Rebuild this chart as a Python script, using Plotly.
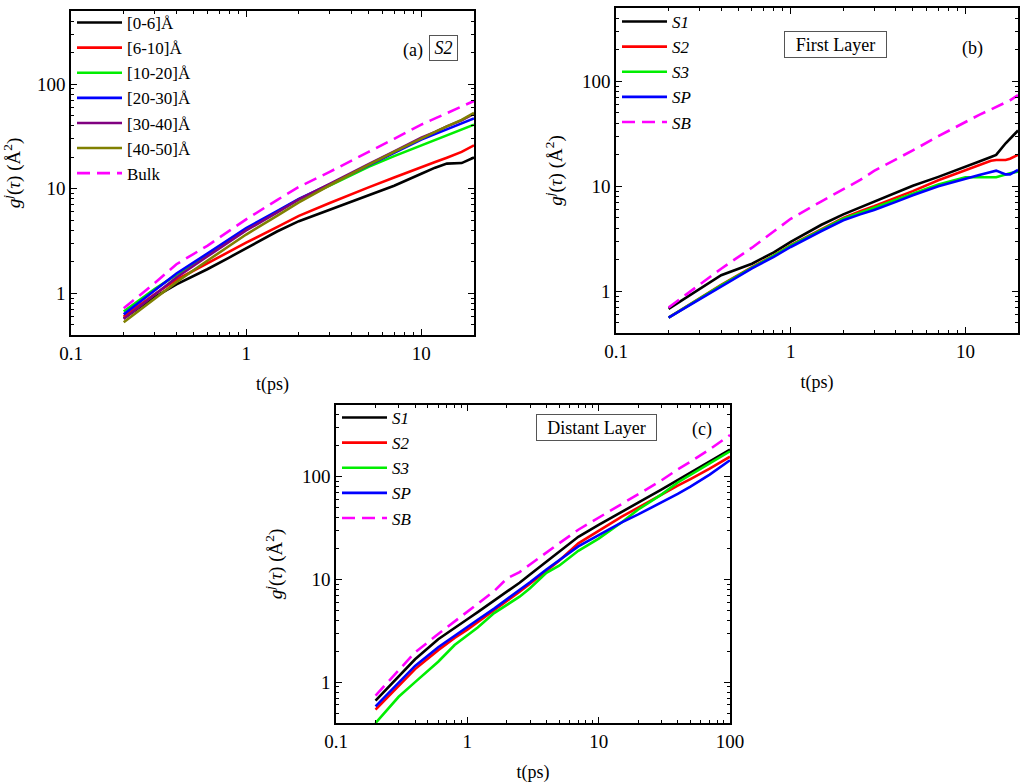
import numpy as np
import plotly.graph_objects as go

# ---------------- data ----------------
# Panel (a): S2, distance shells
t_a = [0.2, 0.3, 0.4, 0.6, 0.8, 1, 1.5, 2, 3, 4, 5, 7, 10, 12, 14, 17, 20]
a_0_6   = [0.58, 0.92, 1.22, 1.70, 2.20, 2.70, 3.90, 4.90, 6.30, 7.50, 8.60, 10.7, 13.9, 15.9, 17.4, 17.6, 19.9]
a_6_10  = [0.60, 0.98, 1.35, 1.95, 2.50, 3.05, 4.30, 5.50, 7.30, 8.90, 10.3, 12.8, 16.2, 18.0, 19.8, 22.5, 26.0]
a_10_20 = [0.67, 1.10, 1.50, 2.30, 3.20, 4.10, 6.00, 7.90, 10.7, 13.5, 16.2, 20.5, 26.0, 29.5, 32.5, 37.0, 41.0]
a_20_30 = [0.63, 1.08, 1.55, 2.40, 3.30, 4.20, 6.10, 8.00, 11.0, 14.0, 16.8, 22.0, 29.5, 33.5, 37.0, 42.0, 47.0]
a_30_40 = [0.57, 0.98, 1.42, 2.25, 3.10, 4.00, 5.90, 7.90, 11.1, 14.3, 17.2, 22.8, 30.8, 35.0, 39.5, 45.0, 52.0]
a_40_50 = [0.53, 0.88, 1.28, 2.05, 2.85, 3.65, 5.50, 7.40, 10.8, 14.0, 16.9, 22.5, 30.4, 35.0, 39.5, 45.5, 53.0]
a_bulk  = [0.72, 1.25, 1.90, 2.85, 3.95, 5.10, 7.80, 10.4, 14.5, 18.7, 22.5, 30.0, 41.0, 47.0, 53.0, 61.0, 69.0]
labels_a = ["[0-6]Å", "[6-10]Å", "[10-20]Å", "[20-30]Å", "[30-40]Å", "[40-50]Å", "Bulk"]

# Panel (b): First layer
t_b = [0.2, 0.3, 0.4, 0.6, 0.8, 1, 1.5, 2, 2.5, 3, 4, 5, 7, 10, 12, 14, 15, 17, 18, 20]
b_s1 = [0.68, 1.05, 1.42, 1.83, 2.35, 2.95, 4.30, 5.40, 6.30, 7.10, 8.70, 10.1, 12.3, 15.2, 17.2, 19.0, 19.9, 25.7, 28.5, 34.0]
b_s2 = [0.56, 0.86, 1.15, 1.70, 2.20, 2.75, 3.90, 5.00, 5.80, 6.45, 7.80, 9.00, 11.4, 14.3, 16.0, 17.5, 17.8, 17.8, 18.3, 19.9]
b_s3 = [0.56, 0.85, 1.14, 1.68, 2.18, 2.72, 3.85, 4.90, 5.60, 6.25, 7.45, 8.55, 10.4, 12.2, 12.3, 12.2, 12.2, 13.0, 13.3, 13.8]
b_sp = [0.56, 0.84, 1.12, 1.65, 2.13, 2.64, 3.75, 4.75, 5.40, 5.95, 7.10, 8.20, 10.0, 11.9, 12.8, 13.7, 14.1, 13.0, 13.0, 14.3]
b_sb = [0.70, 1.15, 1.64, 2.60, 3.75, 4.90, 7.20, 9.30, 11.5, 14.0, 18.0, 22.0, 30.0, 41.0, 48.0, 54.0, 57.0, 63.0, 66.0, 74.0]

# Panel (c): Distant layer
t_c = [0.2, 0.3, 0.4, 0.6, 0.8, 1, 1.2, 1.6, 2, 2.5, 3, 4, 5, 7, 10, 15, 20, 30, 40, 50, 70, 100]
c_s1 = [0.66, 1.15, 1.67, 2.62, 3.40, 4.10, 4.80, 6.20, 7.50, 9.30, 11.2, 14.8, 18.5, 26.0, 34.0, 46.0, 56.0, 75.0, 93.0, 108, 140, 184]
c_s2 = [0.54, 0.92, 1.34, 2.05, 2.70, 3.25, 3.85, 5.00, 6.10, 7.60, 9.10, 12.2, 15.2, 22.5, 30.0, 41.0, 50.0, 67.0, 82.0, 95.0, 120, 157]
c_s3 = [0.40, 0.72, 1.00, 1.58, 2.30, 2.85, 3.40, 4.70, 5.60, 6.80, 8.20, 11.6, 13.6, 19.0, 25.0, 36.0, 48.0, 67.0, 88.0, 105, 135, 177]
c_sp = [0.58, 1.00, 1.44, 2.19, 2.85, 3.45, 4.05, 5.20, 6.40, 7.90, 9.40, 12.5, 15.4, 21.0, 27.0, 36.0, 43.0, 56.0, 68.0, 80.0, 105, 145]
c_sb = [0.74, 1.30, 1.95, 2.94, 3.90, 4.85, 5.70, 7.70, 10.2, 11.8, 14.0, 18.5, 22.5, 30.5, 40.0, 55.0, 68.0, 92.0, 118, 140, 185, 255]
labels_bc = ["<i>S1</i>", "<i>S2</i>", "<i>S3</i>", "<i>SP</i>", "<i>SB</i>"]

x_major = [0.1, 1, 10, 100]
x_major_text = ["0.1", "1", "10", "100"]
y_major = [1, 10, 100]
y_major_text = ["1", "10", "100"]

# ---------------- styling ----------------
FONT = "Liberation Serif"
colors_a = ["#000000", "#FF0000", "#00EE00", "#0000FF", "#800080", "#808000", "#FF00FF"]
colors_bc = ["#000000", "#FF0000", "#00EE00", "#0000FF", "#FF00FF"]
LW = 2.6
DASH = "13px,7px"

fig = go.Figure()

series_a = [a_0_6, a_6_10, a_10_20, a_20_30, a_30_40, a_40_50, a_bulk]
for i, (ys, lab) in enumerate(zip(series_a, labels_a)):
    dash = DASH if lab == "Bulk" else "solid"
    fig.add_trace(go.Scatter(x=t_a, y=ys, mode="lines", name=lab,
                             line=dict(color=colors_a[i], width=LW, dash=dash),
                             xaxis="x", yaxis="y", legend="legend"))

for i, (ys, lab) in enumerate(zip([b_s1, b_s2, b_s3, b_sp, b_sb], labels_bc)):
    dash = DASH if i == 4 else "solid"
    fig.add_trace(go.Scatter(x=t_b, y=ys, mode="lines", name=lab,
                             line=dict(color=colors_bc[i], width=LW, dash=dash),
                             xaxis="x2", yaxis="y2", legend="legend2"))

for i, (ys, lab) in enumerate(zip([c_s1, c_s2, c_s3, c_sp, c_sb], labels_bc)):
    dash = DASH if i == 4 else "solid"
    fig.add_trace(go.Scatter(x=t_c, y=ys, mode="lines", name=lab,
                             line=dict(color=colors_bc[i], width=LW, dash=dash),
                             xaxis="x3", yaxis="y3", legend="legend3"))

W, H = 1024, 783
ML, MR, MT, MB = 71, 6, 8, 60
PW, PH = W - ML - MR, H - MT - MB


def px_x(p):
    return (p - ML) / PW


def px_y(p):
    return (H - MB - p) / PH


minor_x = [v * m for v in [0.1, 1, 10] for m in range(2, 10)]
minor_y = [0.4, 0.5, 0.6, 0.7, 0.8, 0.9] + [v * m for v in [1, 10, 100] for m in range(2, 10)]
minor_y = [v for v in minor_y if v <= 500]

tickfont = dict(family=FONT, size=19, color="black")
titlefont = dict(family=FONT, size=18, color="black")
ytitlefont = dict(family=FONT, size=19, color="black")
ytitle = "<i>g</i><sup><i>j</i></sup>(<i>τ</i>) (Å<sup>2</sup>)"


def xaxis(domain, rng, anchor):
    return dict(type="log", domain=domain, range=[np.log10(rng[0]), np.log10(rng[1])],
                anchor=anchor, showline=True, linecolor="black", linewidth=1.6,
                mirror="allticks", ticks="inside", ticklen=6, tickwidth=1.4, tickcolor="black",
                tickmode="array", tickvals=x_major, ticktext=x_major_text,
                minor=dict(ticks="inside", ticklen=3.5, tickwidth=1.2, tickcolor="black",
                           tickmode="array", tickvals=minor_x),
                showgrid=False, zeroline=False, tickfont=tickfont, automargin=False,
                title=dict(text="t(ps)", font=titlefont, standoff=15))


def yaxis(domain, anchor):
    return dict(type="log", domain=domain, range=[np.log10(0.4), np.log10(500)],
                anchor=anchor, showline=True, linecolor="black", linewidth=1.6,
                mirror="allticks", ticks="inside", ticklen=6, tickwidth=1.4, tickcolor="black",
                tickmode="array", tickvals=y_major, ticktext=y_major_text,
                minor=dict(ticks="inside", ticklen=3.5, tickwidth=1.2, tickcolor="black",
                           tickmode="array", tickvals=minor_y),
                showgrid=False, zeroline=False, tickfont=tickfont, automargin=False,
                title=dict(text=ytitle, font=ytitlefont, standoff=14))


legend_common = dict(font=dict(family=FONT, size=17, color="black"), bgcolor="rgba(0,0,0,0)",
                     borderwidth=0, tracegroupgap=0, xanchor="left", yanchor="top",
                     itemwidth=45, itemclick=False, itemdoubleclick=False)

fig.update_layout(
    width=W, height=H, paper_bgcolor="white", plot_bgcolor="white",
    margin=dict(l=ML, r=MR, t=MT, b=MB, autoexpand=False), showlegend=True,
    font=dict(family=FONT, size=18, color="black"),
    xaxis=xaxis([px_x(71), px_x(474)], [0.1, 20], "y"),
    yaxis=yaxis([px_y(335), px_y(11)], "x"),
    xaxis2=xaxis([px_x(616), px_x(1018)], [0.1, 20], "y2"),
    yaxis2=yaxis([px_y(333), px_y(8)], "x2"),
    xaxis3=xaxis([px_x(336), px_x(730)], [0.1, 100], "y3"),
    yaxis3=yaxis([px_y(723), px_y(405)], "x3"),
    legend=dict(x=px_x(72), y=px_y(5), **legend_common),
    legend2=dict(x=px_x(617), y=px_y(4), **legend_common),
    legend3=dict(x=px_x(337), y=px_y(400), **legend_common),
)

ann_font = dict(family=FONT, size=18, color="black")
annotations = [
    dict(text="(a)", x=px_x(413), y=px_y(38), showarrow=False, font=ann_font,
         xref="paper", yref="paper"),
    dict(text="<i>S2</i>", x=px_x(443.5), y=px_y(35.5), showarrow=False, font=ann_font,
         xref="paper", yref="paper", bordercolor="#555555", borderwidth=1, borderpad=0,
         width=27, height=24),
    dict(text="First Layer", x=px_x(886.5), y=px_y(30.5), showarrow=False, font=ann_font,
         xref="paper", yref="paper", bordercolor="#555555", borderwidth=1, borderpad=0,
         width=101, height=25),
    dict(text="(b)", x=px_x(985), y=px_y(36), showarrow=False, font=ann_font,
         xref="paper", yref="paper"),
    dict(text="Distant Layer", x=px_x(596), y=px_y(427), showarrow=False, font=ann_font,
         xref="paper", yref="paper", bordercolor="#555555", borderwidth=1, borderpad=0,
         width=119, height=25),
    dict(text="(c)", x=px_x(702), y=px_y(429), showarrow=False, font=ann_font,
         xref="paper", yref="paper"),
]
fig.update_layout(annotations=annotations)

fig.write_html("out.html", config={"displayModeBar": False},
               post_script="document.body.style.margin='0px';document.body.style.overflow='hidden';")
